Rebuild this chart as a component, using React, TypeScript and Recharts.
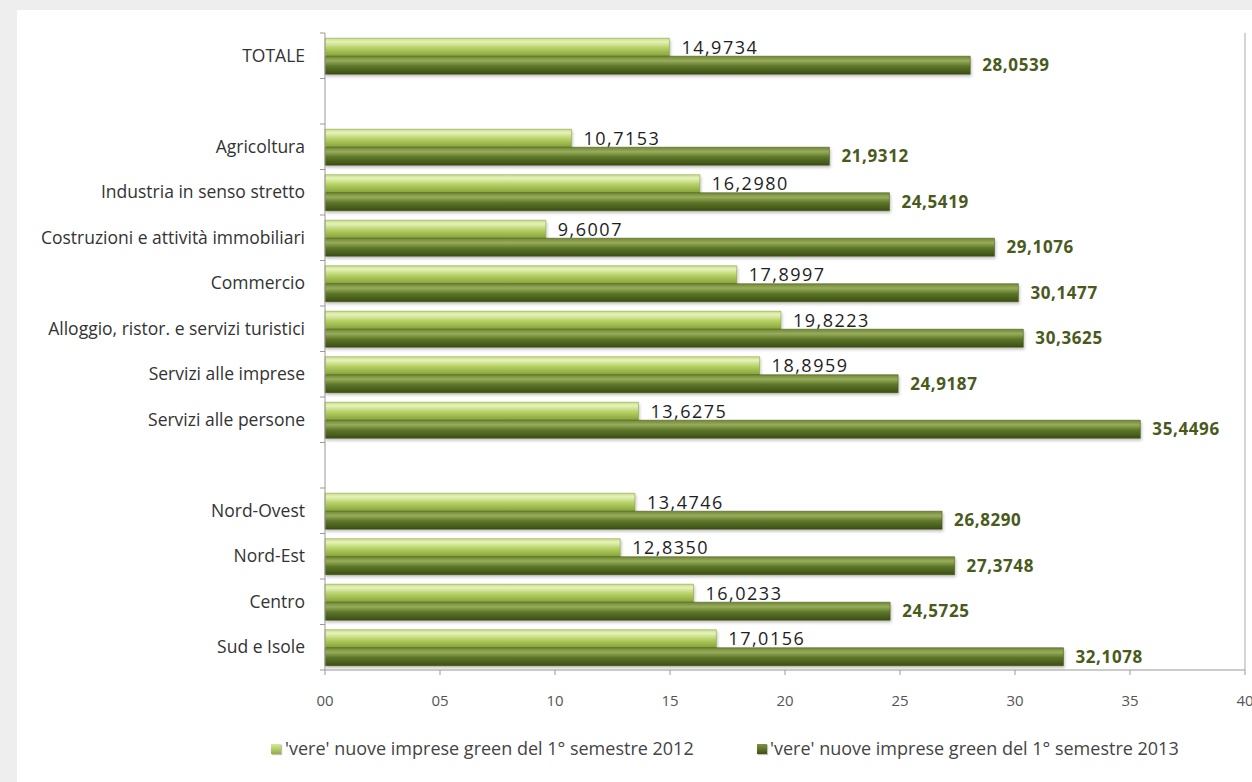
import React from "react";
import {
  BarChart,
  Bar,
  XAxis,
  YAxis,
  LabelList,
  ReferenceLine,
} from "recharts";

const CATEGORIES = [
  "TOTALE",
  "",
  "Agricoltura",
  "Industria in senso stretto",
  "Costruzioni e attività immobiliari",
  "Commercio",
  "Alloggio, ristor. e servizi turistici",
  "Servizi alle imprese",
  "Servizi alle persone",
  " ",
  "Nord-Ovest",
  "Nord-Est",
  "Centro",
  "Sud e Isole",
];

const VALUES_2012 = [
  14.9734, null, 10.7153, 16.298, 9.6007, 17.8997, 19.8223, 18.8959, 13.6275,
  null, 13.4746, 12.835, 16.0233, 17.0156,
];

const VALUES_2013 = [
  28.0539, null, 21.9312, 24.5419, 29.1076, 30.1477, 30.3625, 24.9187, 35.4496,
  null, 26.829, 27.3748, 24.5725, 32.1078,
];

const X_TICKS = [0, 5, 10, 15, 20, 25, 30, 35, 40];

const LEGEND_2012 = "'vere' nuove imprese green del 1° semestre 2012";
const LEGEND_2013 = "'vere' nuove imprese green del 1° semestre 2013";

const data = CATEGORIES.map((name, i) => ({
  name,
  v2012: VALUES_2012[i],
  v2013: VALUES_2013[i],
}));

const W = 1252;
const H = 782;
const MARGIN = { top: 33, right: 7, bottom: 82, left: 25 };
const Y_AXIS_W = 300;
const X_AXIS_H = 30;
const PLOT_H = H - MARGIN.top - MARGIN.bottom - X_AXIS_H;
const FONT = "'Open Sans', 'DejaVu Sans', sans-serif";

const fmt = (v: any) =>
  v == null ? "" : Number(v).toFixed(4).replace(".", ",");

// category label plus Excel-style tick marks on band boundaries
const CategoryTick = (props: any) => {
  const { x, y, payload, index } = props;
  const step = PLOT_H / CATEGORIES.length;
  const axisX = x + 20;
  return (
    <g>
      <line x1={axisX - 5} x2={axisX} y1={y - step / 2} y2={y - step / 2} stroke="#999" />
      {index === CATEGORIES.length - 1 && (
        <line x1={axisX - 5} x2={axisX} y1={y + step / 2} y2={y + step / 2} stroke="#999" />
      )}
      <text x={x} y={y} dy="0.35em" textAnchor="end" fontSize={17.5} fill="#333" fontFamily={FONT}>
        {payload.value.trim()}
      </text>
    </g>
  );
};

const LegendBox = () => (
  <div style={{ position: "absolute", left: 0, top: 736, width: W, height: 26, fontFamily: FONT, fontSize: 18, color: "#444" }}>
    <span style={{ position: "absolute", left: 271, top: 8, width: 10, height: 10, background: "linear-gradient(#d8ea9a, #8fae40)", boxShadow: "1px 1px 1px rgba(0,0,0,0.25)" }} />
    <span style={{ position: "absolute", left: 285, top: 0, whiteSpace: "nowrap" }}>{LEGEND_2012}</span>
    <span style={{ position: "absolute", left: 757, top: 8, width: 10, height: 10, background: "linear-gradient(#7f963f, #3e5016)", boxShadow: "1px 1px 1px rgba(0,0,0,0.25)" }} />
    <span style={{ position: "absolute", left: 770, top: 0, whiteSpace: "nowrap" }}>{LEGEND_2013}</span>
  </div>
);

export default function App() {
  return (
    <div style={{ position: "absolute", left: 0, top: 0, width: W, height: H, background: "#eeeeee", overflow: "hidden" }}>
      <div style={{ position: "absolute", left: 17, top: 10, width: W - 17, height: H - 10, background: "#ffffff" }} />
      <div style={{ position: "absolute", left: 0, top: 0 }}>
        <BarChart
          width={W}
          height={H}
          data={data}
          layout="vertical"
          margin={MARGIN}
          barCategoryGap="11.5%"
          barGap={0}
        >
          <defs>
            <linearGradient id="gLight" x1="0" y1="0" x2="0" y2="1">
              <stop offset="0%" stopColor="#c9de86" />
              <stop offset="20%" stopColor="#e6f2bb" />
              <stop offset="55%" stopColor="#b4cf62" />
              <stop offset="100%" stopColor="#86a23a" />
            </linearGradient>
            <linearGradient id="gDark" x1="0" y1="0" x2="0" y2="1">
              <stop offset="0%" stopColor="#6f8733" />
              <stop offset="25%" stopColor="#98ad5c" />
              <stop offset="55%" stopColor="#5d7628" />
              <stop offset="100%" stopColor="#3c4e15" />
            </linearGradient>
            <filter id="shadow" x="-5%" y="-30%" width="110%" height="180%">
              <feDropShadow dx="1" dy="2" stdDeviation="1.5" floodColor="#000" floodOpacity="0.25" />
            </filter>
          </defs>
          <XAxis
            type="number"
            domain={[0, 40]}
            ticks={X_TICKS}
            interval={0}
            height={X_AXIS_H}
            tickFormatter={(v) => String(v).padStart(2, "0")}
            tick={{ fill: "#555", fontSize: 15, fontFamily: FONT }}
            tickSize={5}
            tickMargin={20}
            axisLine={{ stroke: "#999" }}
            tickLine={{ stroke: "#999" }}
          />
          <XAxis
            xAxisId="top"
            type="number"
            orientation="top"
            domain={[0, 40]}
            height={0}
            tick={false}
            tickLine={false}
            axisLine={{ stroke: "#d4d4d4" }}
          />
          <YAxis
            type="category"
            dataKey="name"
            width={Y_AXIS_W}
            interval={0}
            tickSize={5}
            tickMargin={15}
            tickLine={false}
            axisLine={{ stroke: "#999" }}
            tick={<CategoryTick />}
          />
          <ReferenceLine x={40} stroke="#d4d4d4" strokeWidth={2} />
          <Bar dataKey="v2012" fill="url(#gLight)" stroke="#7d9934" strokeWidth={0.5} filter="url(#shadow)" isAnimationActive={false}>
            <LabelList
              dataKey="v2012"
              position="right"
              offset={12}
              formatter={fmt}
              style={{ fill: "#1e1e1e", fontSize: 18, letterSpacing: 1.5, fontFamily: FONT }}
            />
          </Bar>
          <Bar dataKey="v2013" fill="url(#gDark)" stroke="#3c4e15" strokeWidth={0.5} filter="url(#shadow)" isAnimationActive={false}>
            <LabelList
              dataKey="v2013"
              position="right"
              offset={12}
              formatter={fmt}
              style={{ fill: "#4a5a1c", fontSize: 17, fontWeight: 700, letterSpacing: 0.6, fontFamily: FONT }}
            />
          </Bar>
        </BarChart>
      </div>
      <LegendBox />
    </div>
  );
}
